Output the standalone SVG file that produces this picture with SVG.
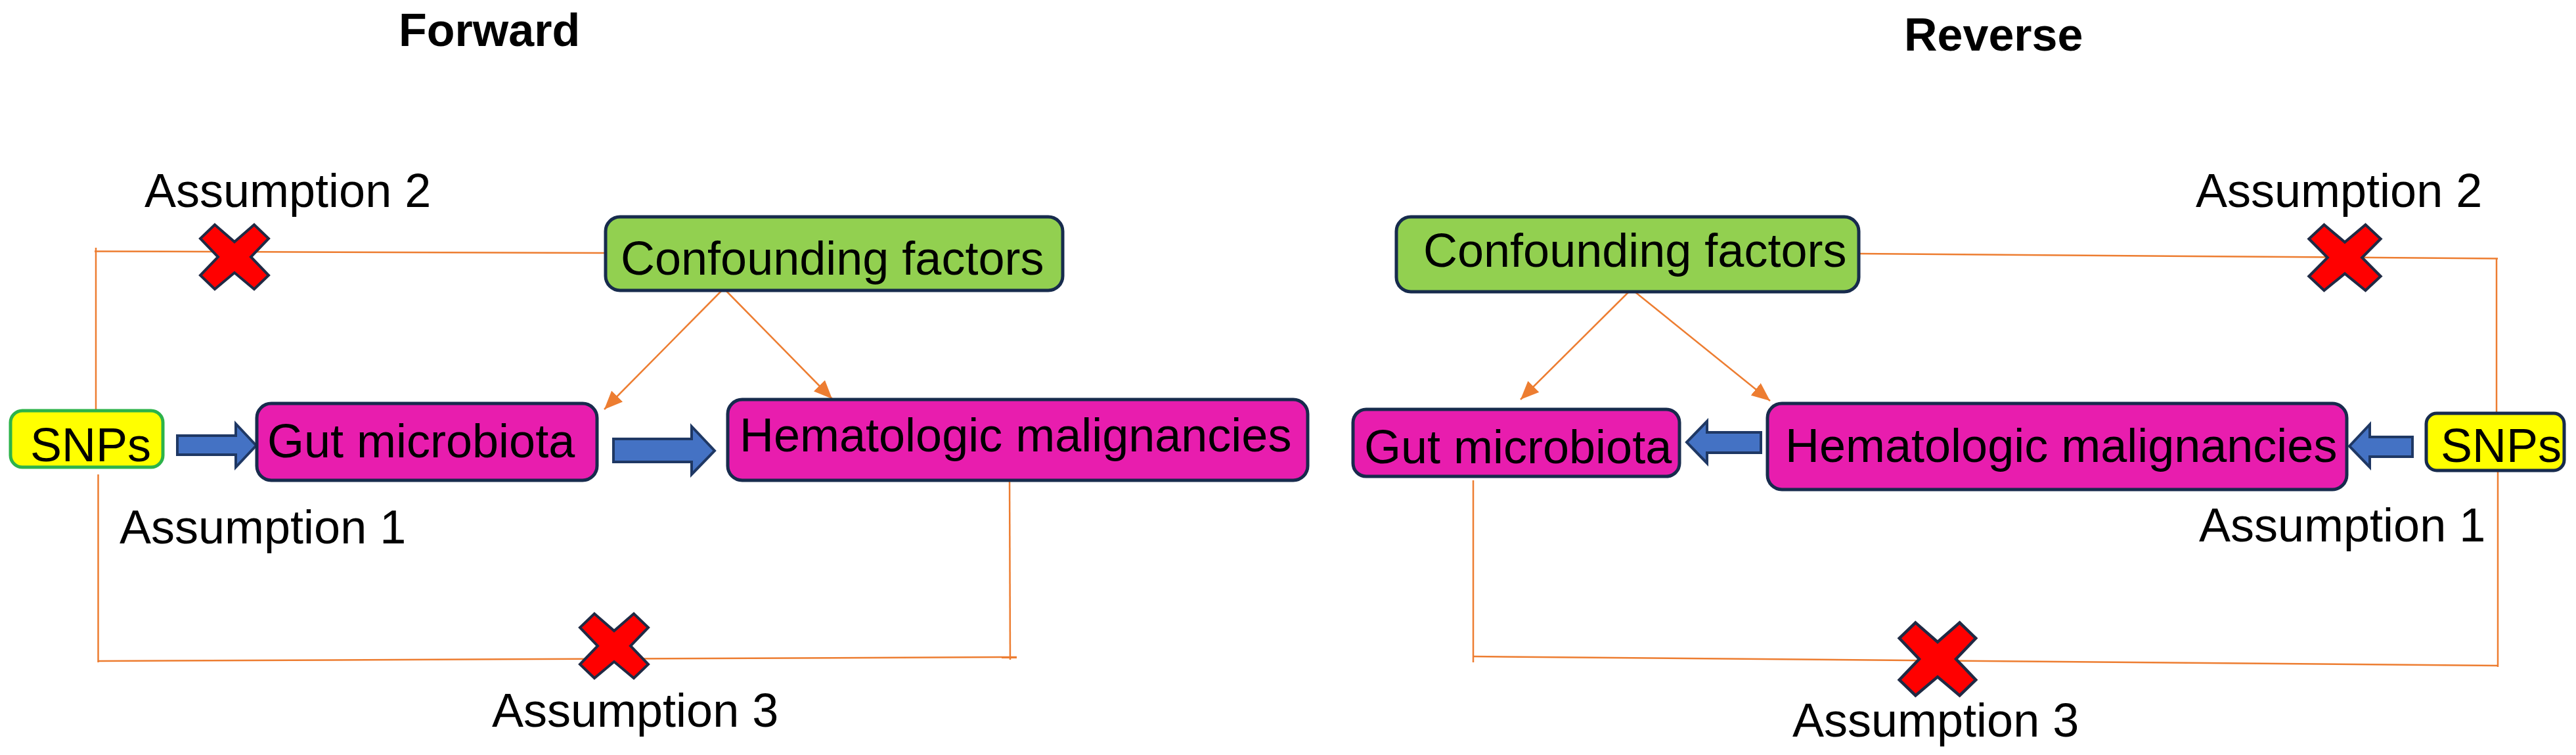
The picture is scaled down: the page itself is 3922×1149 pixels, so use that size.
<svg xmlns="http://www.w3.org/2000/svg" width="3922" height="1149" viewBox="0 0 3922 1149">
<style>
text{font-family:"Liberation Sans",Arial,sans-serif;font-size:72px;fill:#000}
.title{font-weight:bold;font-size:70px}
.box{stroke:#172B4D;stroke-width:5}
.pink{fill:#E81DAE}
.green{fill:#92D050}
.yellow{fill:#FFFF00}
.conn{fill:none;stroke:#ED7D31;stroke-width:2.5}
.barrow{fill:#4472C4;stroke:#1F3864;stroke-width:4;stroke-linejoin:miter}
.xmark{fill:#FF0000;stroke:#1F2A44;stroke-width:4;stroke-linejoin:miter}
</style>
<defs>
<marker id="oh" viewBox="0 0 28 24" refX="28" refY="12" markerWidth="28" markerHeight="24" markerUnits="userSpaceOnUse" orient="auto">
<path d="M0,0 L28,12 L0,24 Z" fill="#ED7D31"/>
</marker>
<path id="xshape" d="M-30,-49 L0,-23 L30,-49 L52,-28 L25,0 L52,28 L30,49 L0,24 L-30,49 L-52,28 L-25,0 L-52,-28 Z"/>
</defs>
<rect width="3922" height="1149" fill="#fff"/>

<g id="connectors">
<!-- Forward -->
<path class="conn" d="M922,385 L144,382.5"/>
<path class="conn" d="M146,377 L146,627"/>
<path class="conn" d="M149.5,722 L149.5,1008"/>
<path class="conn" d="M149.5,1006 L1548,1000"/>
<path class="conn" d="M1537,715 L1538,1004"/>
<path class="conn" d="M1101,440 L920,623" marker-end="url(#oh)"/>
<path class="conn" d="M1103,440 L1267,607" marker-end="url(#oh)"/>
<!-- Reverse -->
<path class="conn" d="M2830,386 L3803,393.5"/>
<path class="conn" d="M3801,393 L3801,629"/>
<path class="conn" d="M3803,718 L3803,1015"/>
<path class="conn" d="M3803,1013 L2243,999"/>
<path class="conn" d="M2243,731 L2243,1008"/>
<path class="conn" d="M2484,440 L2315,608" marker-end="url(#oh)"/>
<path class="conn" d="M2484,440 L2695,610" marker-end="url(#oh)"/>
<!-- block arrows -->
<polygon class="barrow" points="270,663 359,663 359,645 390,678 359,711 359,692 270,692"/>
<polygon class="barrow" points="934,668 1053,668 1053,649 1088,686 1053,722 1053,703 934,703"/>
<polygon class="barrow" points="2681,658 2599,658 2599,641 2568,673 2599,705 2599,689 2681,689"/>
<polygon class="barrow" points="3673,665 3608,665 3608,646 3577,679 3608,711 3608,695 3673,695"/>
</g>

<g id="titles">
<text class="title" x="607" y="70">Forward</text>
<text class="title" x="2899" y="77">Reverse</text>
</g>

<g id="fwd-snps">
<rect x="16" y="625" width="232" height="86" rx="18" class="yellow" stroke="#2DB34A" stroke-width="5"/>
<text x="46" y="702">SNPs</text>
</g>
<g id="fwd-gut">
<rect x="391" y="614" width="518" height="117" rx="22" class="box pink"/>
<text x="407" y="696">Gut microbiota</text>
</g>
<g id="fwd-hema">
<rect x="1108" y="608" width="883" height="123" rx="22" class="box pink"/>
<text x="1126" y="687">Hematologic malignancies</text>
</g>
<g id="fwd-conf">
<rect x="922" y="330" width="696" height="112" rx="22" class="box green"/>
<text x="945" y="418">Confounding factors</text>
</g>

<g id="rev-conf">
<rect x="2126" y="330" width="704" height="114" rx="22" class="box green"/>
<text x="2167" y="406">Confounding factors</text>
</g>
<g id="rev-gut">
<rect x="2060" y="623" width="497" height="102" rx="20" class="box pink"/>
<text x="2077" y="705">Gut microbiota</text>
</g>
<g id="rev-hema">
<rect x="2691" y="614" width="882" height="131" rx="22" class="box pink"/>
<text x="2718" y="703">Hematologic malignancies</text>
</g>
<g id="rev-snps">
<rect x="3694" y="629" width="210" height="87" rx="16" class="box yellow"/>
<text x="3716" y="703">SNPs</text>
</g>

<g id="marks">
<use href="#xshape" class="xmark" transform="translate(357,391)"/>
<use href="#xshape" class="xmark" transform="translate(935,983)"/>
<use href="#xshape" class="xmark" transform="translate(3570,392) scale(1.05,1.02)"/>
<use href="#xshape" class="xmark" transform="translate(2950,1003) scale(1.12,1.13)"/>
</g>

<g id="labels">
<text x="220" y="315">Assumption 2</text>
<text x="182" y="827">Assumption 1</text>
<text x="749" y="1106">Assumption 3</text>
<text x="3343" y="315">Assumption 2</text>
<text x="3348" y="824">Assumption 1</text>
<text x="2729" y="1121">Assumption 3</text>
</g>
</svg>
